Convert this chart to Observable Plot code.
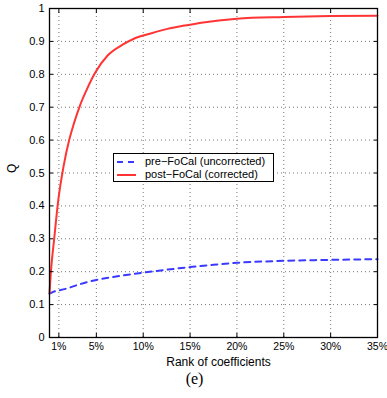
<!DOCTYPE html>
<html>
<head>
<meta charset="utf-8">
<script src="https://cdn.jsdelivr.net/npm/d3@7"></script>
<script src="https://cdn.jsdelivr.net/npm/@observablehq/plot@0.6"></script>
<style>
  html, body { margin: 0; padding: 0; background: #fff; }
  #wrap { position: relative; width: 387px; height: 398px; font-family: "Liberation Sans", Arial, sans-serif; }
  #legend { position: absolute; left: 113px; top: 153px; width: 161px; height: 29px; border: 1px solid #000; background: #fff; box-sizing: border-box; font-size: 11px; line-height: 13px; padding-top: 1px; }
  #legend .row { display: flex; align-items: center; height: 13px; white-space: nowrap; }
  #legend svg { margin-left: 3px; margin-right: 9px; }
</style>
</head>
<body>
<div id="wrap"></div>
<script>
// Data
const xTicks = [1, 5, 10, 15, 20, 25, 30, 35];
const yTicks = [0, 0.1, 0.2, 0.3, 0.4, 0.5, 0.6, 0.7, 0.8, 0.9, 1];

const postRank = [0, 0.15, 0.5, 0.93, 1.5, 2.1, 2.6, 3.25, 4, 4.9, 6.2, 7.8, 9, 10.8, 12.6, 14.4, 16.2, 20, 25, 30, 35];
const postQ    = [0.135, 0.2, 0.3, 0.416, 0.52, 0.6, 0.65, 0.705, 0.755, 0.806, 0.857, 0.89, 0.908, 0.924, 0.938, 0.948, 0.957, 0.969, 0.974, 0.977, 0.978];

const preRank = [0, 0.5, 1, 2, 3, 4, 5, 7.5, 10, 12.5, 15, 17.5, 20, 25, 30, 35];
const preQ    = [0.133, 0.14, 0.143, 0.15, 0.16, 0.168, 0.175, 0.187, 0.197, 0.206, 0.214, 0.221, 0.227, 0.233, 0.236, 0.238];

const seriesNames = ["pre\u2212FoCal (uncorrected)", "post\u2212FoCal (corrected)"];
const xLabel = "Rank of coefficients";
const yLabel = "Q";
const caption = "(e)";

const pre = preRank.map((r, i) => ({rank: r, q: preQ[i]}));
const post = postRank.map((r, i) => ({rank: r, q: postQ[i]}));

const blue = "#3a3aff";
const red = "#ff3535";

const grid = {stroke: "#777", strokeOpacity: 1, strokeDasharray: "1,3"};

const chart = Plot.plot({
  width: 387,
  height: 398,
  marginLeft: 49,
  marginRight: 10,
  marginTop: 8,
  marginBottom: 61,
  style: {fontFamily: "Liberation Sans, Arial, sans-serif", fontSize: "11px", background: "#fff", overflow: "visible"},
  x: {domain: [0, 35]},
  y: {domain: [0, 1]},
  marks: [
    Plot.gridX(xTicks, grid),
    Plot.gridY(yTicks, grid),
    Plot.lineY(pre, {x: "rank", y: "q", stroke: blue, strokeWidth: 2, strokeDasharray: "6,5", curve: "monotone-x"}),
    Plot.lineY(post, {x: "rank", y: "q", stroke: red, strokeWidth: 2, curve: "monotone-x"}),
    Plot.axisX(xTicks, {tickSize: 0, tickPadding: 5, tickFormat: d => d + "%", label: null, fontSize: 10.5}),
    Plot.axisY(yTicks, {tickSize: 0, tickPadding: 5, tickFormat: d => String(d), label: null, fontSize: 11}),
    Plot.axisX(xTicks, {anchor: "bottom", tickSize: -4, tickFormat: () => "", label: null}),
    Plot.axisX(xTicks, {anchor: "top", tickSize: -4, tickFormat: () => "", label: null}),
    Plot.axisY(yTicks, {anchor: "left", tickSize: -4, tickFormat: () => "", label: null}),
    Plot.axisY(yTicks, {anchor: "right", tickSize: -4, tickFormat: () => "", label: null}),
    Plot.frame({stroke: "#000", strokeWidth: 1.3}),
    Plot.text([xLabel], {frameAnchor: "bottom", dx: 5, dy: 28, fontSize: 12, fill: "#000"}),
    Plot.text([caption], {frameAnchor: "bottom", dx: -19, dy: 46, fontSize: 16, fill: "#000", fontFamily: "Liberation Serif, Times New Roman, serif"}),
    Plot.text([yLabel], {frameAnchor: "left", dx: -37, rotate: -90, fontSize: 12, fill: "#000"})
  ]
});

const wrap = document.getElementById("wrap");
wrap.appendChild(chart);

const legend = document.createElement("div");
legend.id = "legend";
legend.innerHTML =
  `<div class="row"><svg width="19" height="6"><line x1="0" y1="3" x2="19" y2="3" stroke="${blue}" stroke-width="2" stroke-dasharray="6,5"/></svg><span>${seriesNames[0]}</span></div>` +
  `<div class="row"><svg width="19" height="6"><line x1="0" y1="3" x2="19" y2="3" stroke="${red}" stroke-width="2"/></svg><span>${seriesNames[1]}</span></div>`;
wrap.appendChild(legend);
</script>
</body>
</html>
